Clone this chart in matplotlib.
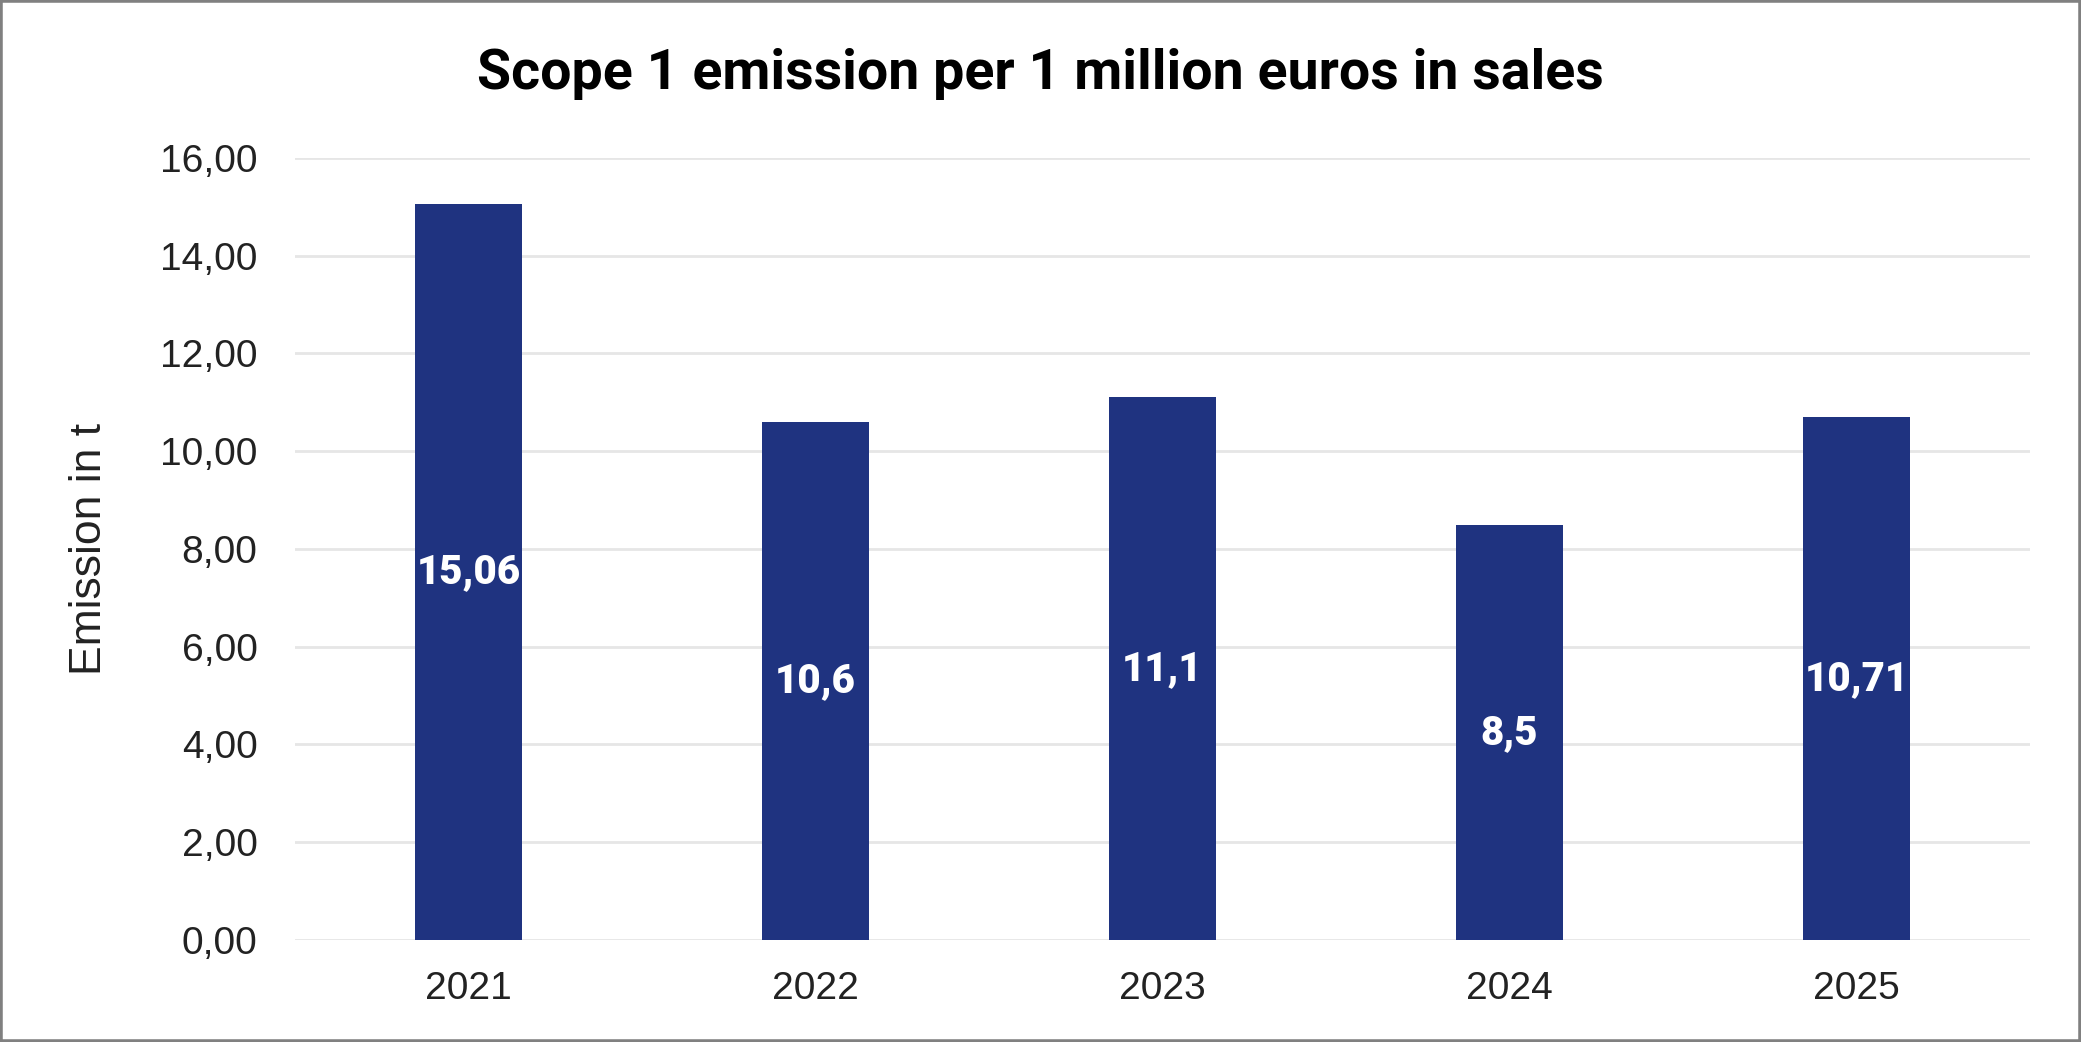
import matplotlib.pyplot as plt
from matplotlib.patches import Rectangle

years = ["2021", "2022", "2023", "2024", "2025"]
emissions = [15.06, 10.6, 11.1, 8.5, 10.71]
value_labels = ["15,06", "10,6", "11,1", "8,5", "10,71"]
y_ticks = [0, 2, 4, 6, 8, 10, 12, 14, 16]

BAR_COLOR = "#1F3380"
TEXT_COLOR = "#222222"


def comma_fmt(v):
    return f"{v:.2f}".replace(".", ",")


fig = plt.figure(figsize=(20.81, 10.42), dpi=100)
ax = fig.add_axes([0.1418, 0.0979, 0.8337, 0.7505])

x = range(len(years))
bars = ax.bar(x, emissions, width=0.31, color=BAR_COLOR, zorder=3)

for bar, label in zip(bars, value_labels):
    ax.text(
        bar.get_x() + bar.get_width() / 2,
        bar.get_height() / 2,
        label,
        ha="center",
        va="center",
        color="white",
        fontsize=29,
        fontweight="black",
        family=["Roboto", "DejaVu Sans"],
        zorder=4,
    )

ax.set_xlim(-0.5, len(years) - 0.5)
ax.set_ylim(0, 16)
ax.set_yticks(y_ticks)
ax.set_yticklabels([comma_fmt(v) for v in y_ticks])
ax.set_xticks(list(x))
ax.set_xticklabels(years)
ax.tick_params(axis="both", length=0, labelsize=28, colors=TEXT_COLOR,
               labelfontfamily="Liberation Sans")
ax.tick_params(axis="y", pad=27)
ax.tick_params(axis="x", pad=22)

ax.yaxis.grid(True, color="#E6E6E6", linewidth=2, zorder=0)
ax.set_axisbelow(True)
for side in ax.spines.values():
    side.set_visible(False)

fig.text(0.043, 0.473, "Emission in t", rotation=90, ha="center", va="center",
         fontsize=32, color=TEXT_COLOR, family="Liberation Sans")
fig.text(0.5, 0.929, "Scope 1 emission per 1 million euros in sales",
         ha="center", va="center", fontsize=40, fontweight="bold",
         color="black", family=["Roboto", "DejaVu Sans"])

fig.add_artist(Rectangle((0, 0), 1, 1, transform=fig.transFigure, fill=False,
                         edgecolor="#808080", linewidth=4))

fig.savefig("out.png", dpi=100)
